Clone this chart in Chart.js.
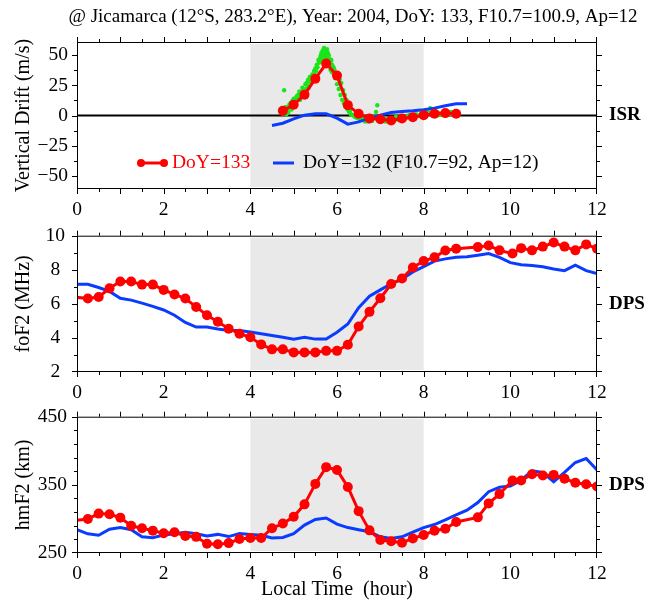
<!DOCTYPE html>
<html>
<head>
<meta charset="utf-8">
<script src="https://cdn.jsdelivr.net/npm/chart.js@4.4.0/dist/chart.umd.min.js"></script>
<style>
  html, body { margin: 0; padding: 0; background: #fff; }
  #wrap { position: relative; width: 647px; height: 600px; }
  #wrap canvas { position: absolute; left: 0; }
</style>
</head>
<body>
<div id="wrap">
  <canvas id="driftChart" style="top:0px"></canvas>
  <canvas id="foF2Chart" style="top:212px"></canvas>
  <canvas id="hmF2Chart" style="top:395px"></canvas>
</div>
<script>
// ISR vertical drift (m/s), DoY 133 fitted curve
const isrHours133 = [4.75, 5, 5.25, 5.5, 5.75, 6, 6.25, 6.5, 6.75, 7, 7.25, 7.5, 7.75, 8, 8.25, 8.5, 8.75];
const isrDrift133 = [3.9, 8.9, 17.3, 30.6, 43.1, 33.1, 8.6, 1.4, -2.5, -3.1, -4.2, -2.5, -1.4, 0.3, 1.4, 2.0, 1.4];

// ISR raw samples, DoY 133
const isrRawHours = [4.75, 4.78, 4.8, 4.83, 4.86, 4.88, 4.92, 4.95, 4.98, 5.02, 5.05, 5.08, 5.12, 5.15, 5.18, 5.22,
  5.25, 5.28, 5.32, 5.35, 5.38, 5.42, 5.45, 5.48, 5.52, 5.55, 5.58, 5.6, 5.63, 5.66, 5.68, 5.71, 5.73, 5.76, 5.78,
  5.8, 5.82, 5.85, 5.88, 5.9, 5.93, 5.96, 6.0, 6.04, 6.08, 6.12, 6.16, 6.2, 6.24, 6.28, 6.32, 6.38, 6.44, 6.5, 6.56,
  6.62, 6.68, 6.72, 6.78, 6.84, 6.93, 6.9, 6.95, 7.0, 7.06, 7.12, 7.18, 7.25, 7.32, 7.4, 7.48, 7.55, 7.62, 7.7, 7.78,
  7.85, 7.92, 8.0, 8.08, 8.15, 8.2, 8.28, 8.35, 8.42, 8.5, 8.58, 8.65, 8.72,
  4.77, 4.82, 4.85, 4.9, 4.93, 4.97, 5.0, 5.03, 5.07, 5.1, 5.13, 5.17, 5.2, 5.23, 5.27, 5.3, 5.33, 5.37, 5.4, 5.43,
  5.47, 5.5, 5.53, 5.57, 5.59, 5.62, 5.64, 5.65, 5.67, 5.69, 5.7, 5.72, 5.74, 5.75, 5.77, 5.79, 5.81, 5.83, 5.86,
  5.87, 5.89, 5.92, 5.94, 5.98, 6.02, 6.06, 6.1, 6.14, 6.18, 6.22, 6.26, 6.3, 6.35, 6.41, 6.47, 6.53, 6.59, 6.65,
  6.75, 6.81, 6.87, 6.98, 7.03, 7.09, 7.15, 7.22, 7.29, 7.36, 7.44, 7.52, 7.59, 7.67, 7.75, 7.82, 7.89, 7.96, 8.04,
  8.11, 8.24, 8.32, 8.39, 8.46, 8.54, 8.62, 8.69];
const isrRawDrift = [1.5, 21, 4.5, 1, 6, 3, 8, 5, 10, 12, 9, 14, 16, 13, 18, 20,
  17, 22, 25, 23, 28, 31, 29, 34, 37, 40, 44, 47, 50, 46, 52, 49, 54, 51, 47,
  44, 41, 38, 36, 39, 34, 31, 26, 22, 17, 13, 10, 7, 5, 3, 1, 0, -1.5, -2.5, -3,
  -4, -3.5, -5, -4, -2, 8.5, 3, -3, -4.5, -3.5, -5, -4, -3, -2.5, -3.5, -2, -1.5, -1, -0.5, 0,
  0.5, 0, 1, 1.5, 6, 2, 1, 2, 1.5, 2.5, 1, 1.5, 2,
  5, 7, 3, 9, 10.5, 12, 14, 11, 16, 17, 20, 19, 23, 21, 26, 27, 29.5, 32, 30, 34,
  37, 39, 42, 46, 44, 49, 52, 47, 54, 51, 56, 53, 50, 48, 55, 52, 50, 47, 45,
  46, 42, 40, 38, 34, 34, 30, 27, 21, 17, 13, 8, 4, 0.5, -1, -2, -3.5, -2, -5,
  -2.5, -4.5, -1, -2, -5, -2.5, -3, -4.5, -2, -1, -2.5, -0.5, -2, 0.5, -1, 1, -0.5, 1.5, 0,
  2.5, 0.5, 2.5, 0.5, 3, 1.5, 3, 0.5];

// ISR vertical drift, DoY 132
const isrHours132 = [4.5, 4.75, 5, 5.25, 5.5, 5.75, 6, 6.25, 6.5, 6.75, 7, 7.25, 7.5, 7.75, 8, 8.25, 8.5, 8.75, 9];
const isrDrift132 = [-8.3, -6.4, -2.8, 0.3, 1.4, 1.4, -2.2, -7.2, -5.3, -2.2, 0.3, 2.5, 3.3, 3.9, 4.7, 6.1, 8.1, 9.7, 9.7];

// DPS digisonde, DoY 133 (first sample belongs to the previous evening)
const dpsHours133 = [-0.25, 0.25, 0.5, 0.75, 1, 1.25, 1.5, 1.75, 2, 2.25, 2.5, 2.75, 3, 3.25, 3.5, 3.75, 4,
  4.25, 4.5, 4.75, 5, 5.25, 5.5, 5.75, 6, 6.25, 6.5, 6.75, 7, 7.25, 7.5, 7.75, 8, 8.25, 8.5, 8.75,
  9.25, 9.5, 9.75, 10.05, 10.25, 10.5, 10.75, 11, 11.25, 11.5, 11.75, 12];
const foF2Day133 = [6.45, 6.31, 6.40, 6.91, 7.31, 7.31, 7.13, 7.13, 6.82, 6.55, 6.31, 5.82, 5.33, 4.95, 4.54, 4.25, 4.04,
  3.62, 3.33, 3.33, 3.15, 3.15, 3.15, 3.24, 3.24, 3.60, 4.67, 5.53, 6.33, 7.16, 7.49, 8.13, 8.51, 8.73, 9.13, 9.24,
  9.33, 9.42, 9.14, 8.95, 9.27, 9.14, 9.36, 9.60, 9.36, 9.14, 9.49, 9.24];
const hmF2Day133 = [296, 300.0, 307.8, 306.8, 301.9, 290.0, 286.4, 282.8, 279.1, 280.5, 275.0, 273.7, 263.7, 262.8, 264.5, 270.5, 271.9,
  271.9, 286.4, 293.2, 303.2, 321.4, 351.4, 376.0, 371.9, 346.9, 311.4, 283.2, 269.1, 267.3, 265.0, 271.4, 276.4, 282.8, 285.5, 295.5,
  302.3, 322.8, 336.4, 356.4, 356.4, 365.5, 363.7, 364.6, 359.1, 353.2, 351.0, 347.7];

// DPS digisonde, DoY 132
const dpsHours132 = [0, 0.25, 0.5, 0.75, 1, 1.25, 1.5, 1.75, 2, 2.25, 2.5, 2.75, 3, 3.25, 3.5, 3.75, 4,
  4.25, 4.5, 4.75, 5, 5.25, 5.5, 5.75, 6, 6.25, 6.5, 6.75, 7, 7.25, 7.5, 7.75, 8,
  8.25, 8.5, 8.75, 9, 9.25, 9.5, 9.75, 10, 10.25, 10.5, 10.75, 11, 11.25, 11.5, 11.75, 12];
const foF2Day132 = [7.15, 7.15, 6.96, 6.73, 6.33, 6.22, 6.04, 5.85, 5.64, 5.33, 4.91, 4.64, 4.64, 4.53, 4.44, 4.44, 4.35,
  4.25, 4.14, 4.04, 3.93, 4.04, 3.93, 3.93, 4.33, 4.82, 5.78, 6.45, 6.82, 7.18, 7.45, 7.87, 8.18,
  8.51, 8.64, 8.73, 8.76, 8.85, 8.95, 8.73, 8.42, 8.29, 8.25, 8.18, 8.05, 7.95, 8.27, 7.95, 7.78];
const hmF2Day132 = [284.1, 278.2, 276.0, 285.0, 287.3, 284.1, 273.7, 272.3, 276.4, 278.2, 280.5, 278.2, 275.0, 277.3, 274.1, 278.7, 277.3,
  276.0, 271.9, 272.7, 278.2, 291.0, 299.2, 301.4, 292.3, 287.3, 284.1, 281.1, 273.7, 271.4, 273.7, 280.5, 287.3,
  291.8, 298.6, 306.0, 312.8, 324.1, 340.0, 346.4, 348.2, 356.9, 370.5, 368.2, 354.6, 368.2, 382.8, 388.6, 371.9];

// axes
const hourLabels = [0, 2, 4, 6, 8, 10, 12];
const hourTicks = [0, 1, 2, 3, 4, 5, 6, 7, 8, 9, 10, 11, 12];
const halfHourTicks = [0.5, 1.5, 2.5, 3.5, 4.5, 5.5, 6.5, 7.5, 8.5, 9.5, 10.5, 11.5];
const nightBand = [4, 8];
const driftTicks = [-50, -25, 0, 25, 50];
const driftMinor = [-37.5, -12.5, 12.5, 37.5];
const foF2Ticks = [2, 4, 6, 8, 10];
const foF2Minor = [3, 5, 7, 9];
const hmF2Ticks = [250, 350, 450];
const hmF2Minor = [270, 290, 310, 330, 370, 390, 410, 430];

const SERIF = "'Liberation Serif', 'Times New Roman', serif";
const RED = '#ff0000';
const BLUE = '#0a3cff';

const pts = (xs, ys) => xs.map((x, i) => ({ x, y: ys[i] }));
const minus = v => (v < 0 ? '\u2212' + Math.abs(v) : String(v));

// shaded night band, box frame with outward ticks, instrument tag on the right
const panelFrame = {
  id: 'panelFrame',
  beforeDatasetsDraw(chart, args, opts) {
    const { ctx, chartArea: a, scales: { x } } = chart;
    const x0 = x.getPixelForValue(opts.band[0]);
    const x1 = x.getPixelForValue(opts.band[1]);
    ctx.save();
    ctx.fillStyle = '#e9e9e9';
    ctx.fillRect(x0, a.top + 2, x1 - x0, a.bottom - a.top - 4);
    ctx.restore();
  },
  afterDraw(chart, args, opts) {
    const { ctx, chartArea: a, scales: { x, y } } = chart;
    ctx.save();
    ctx.strokeStyle = '#000';
    ctx.lineWidth = 1;
    ctx.strokeRect(a.left + 0.5, a.top + 0.5, a.right - a.left - 1, a.bottom - a.top - 1);

    const clampX = p => Math.min(Math.max(Math.round(p) + 0.5, a.left + 0.5), a.right - 0.5);
    const clampY = p => Math.min(Math.max(Math.round(p) + 0.5, a.top + 0.5), a.bottom - 0.5);
    ctx.beginPath();
    const xTick = (v, len) => {
      const p = clampX(x.getPixelForValue(v));
      ctx.moveTo(p, a.top); ctx.lineTo(p, a.top - len);
      ctx.moveTo(p, a.bottom); ctx.lineTo(p, a.bottom + len);
    };
    const yTick = (v, len) => {
      const p = clampY(y.getPixelForValue(v));
      ctx.moveTo(a.left, p); ctx.lineTo(a.left - len, p);
      ctx.moveTo(a.right, p); ctx.lineTo(a.right + len, p);
    };
    hourTicks.forEach(v => xTick(v, 5));
    halfHourTicks.forEach(v => xTick(v, 3));
    opts.yMajor.forEach(v => yTick(v, 5));
    opts.yMinor.forEach(v => yTick(v, 3));
    ctx.stroke();

    ctx.fillStyle = '#000';
    ctx.font = 'bold 19px ' + SERIF;
    ctx.textBaseline = 'middle';
    ctx.textAlign = 'left';
    ctx.fillText(opts.tag, a.right + 12, (a.top + a.bottom) / 2);
    ctx.restore();
  }
};

// figure title and series key, drawn on the top panel only
const driftHeader = {
  id: 'driftHeader',
  afterDraw(chart) {
    const { ctx } = chart;
    ctx.save();
    ctx.fillStyle = '#000';
    ctx.font = '19px ' + SERIF;
    ctx.textAlign = 'center';
    ctx.textBaseline = 'middle';
    ctx.fillText('@ Jicamarca (12\u00B0S, 283.2\u00B0E), Year: 2004, DoY: 133, F10.7=100.9, Ap=12', 353, 17);

    const ky = 163;
    ctx.lineWidth = 3;
    ctx.strokeStyle = RED;
    ctx.beginPath(); ctx.moveTo(141, ky); ctx.lineTo(164, ky); ctx.stroke();
    ctx.fillStyle = RED;
    [141, 164].forEach(cx => { ctx.beginPath(); ctx.arc(cx, ky, 4, 0, Math.PI * 2); ctx.fill(); });
    ctx.font = '19.5px ' + SERIF;
    ctx.textAlign = 'left';
    ctx.fillText('DoY=133', 172, ky);

    ctx.strokeStyle = BLUE;
    ctx.beginPath(); ctx.moveTo(273, ky); ctx.lineTo(294, ky); ctx.stroke();
    ctx.fillStyle = '#000';
    ctx.fillText('DoY=132 (F10.7=92, Ap=12)', 303, ky);
    ctx.restore();
  }
};

function makePanel(id, cfg) {
  const canvas = document.getElementById(id);
  canvas.width = 647;
  canvas.height = cfg.height;
  canvas.style.width = '647px';
  canvas.style.height = cfg.height + 'px';

  return new Chart(canvas, {
    type: 'line',
    data: { datasets: cfg.datasets },
    plugins: [panelFrame].concat(cfg.extraPlugins || []),
    options: {
      responsive: false,
      animation: false,
      events: [],
      layout: { padding: { top: cfg.top, right: 50, left: 0, bottom: 0 } },
      plugins: {
        legend: { display: false },
        tooltip: { enabled: false },
        panelFrame: { band: nightBand, yMajor: cfg.yTicks, yMinor: cfg.yMinor, tag: cfg.tag }
      },
      scales: {
        x: {
          type: 'linear',
          min: 0,
          max: 12,
          afterBuildTicks: s => { s.ticks = hourLabels.map(v => ({ value: v })); },
          afterFit: s => { s.height = cfg.xHeight; },
          grid: { display: false, drawTicks: false },
          border: { display: false },
          ticks: { color: '#000', font: { family: SERIF, size: 19.5 }, padding: 9, maxRotation: 0 },
          title: {
            display: !!cfg.xTitle,
            text: cfg.xTitle || '',
            color: '#000',
            font: { family: SERIF, size: 20, lineHeight: 1 },
            padding: { top: 0, bottom: 0 }
          }
        },
        y: {
          type: 'linear',
          min: cfg.yMin,
          max: cfg.yMax,
          afterBuildTicks: s => { s.ticks = cfg.yTicks.map(v => ({ value: v })); },
          afterFit: s => { s.width = 77; },
          grid: { display: false, drawTicks: false },
          border: { display: false },
          ticks: {
            color: '#000',
            font: { family: SERIF, size: 19.5 },
            padding: cfg.yPad,
            crossAlign: cfg.yAlign,
            callback: minus
          },
          title: {
            display: true,
            text: cfg.yTitle,
            color: '#000',
            font: { family: SERIF, size: 20 },
            padding: { top: 12, bottom: 0 }
          }
        }
      }
    }
  });
}

const redLine = data => ({
  data, order: 0, borderColor: RED, borderWidth: 3, tension: 0,
  pointRadius: 5, pointBackgroundColor: RED, pointBorderWidth: 0
});
const blueLine = data => ({
  data, order: 1, borderColor: BLUE, borderWidth: 3, tension: 0, pointRadius: 0
});

makePanel('driftChart', {
  height: 220, top: 42, xHeight: 31,
  yMin: -61, yMax: 61, yTicks: driftTicks, yMinor: driftMinor,
  yPad: 9, yAlign: 'near', yTitle: 'Vertical Drift (m/s)', tag: 'ISR',
  extraPlugins: [driftHeader],
  datasets: [
    redLine(pts(isrHours133, isrDrift133)),
    blueLine(pts(isrHours132, isrDrift132)),
    {
      data: pts(isrRawHours, isrRawDrift), order: 2, showLine: false,
      pointRadius: 2.2, pointBackgroundColor: '#19e619', pointBorderWidth: 0
    },
    {
      data: pts([0, 12], [0, 0]), order: 3, borderColor: '#000', borderWidth: 2, pointRadius: 0
    }
  ]
});

makePanel('foF2Chart', {
  height: 188, top: 13, xHeight: 28,
  yMin: 2, yMax: 10, yTicks: foF2Ticks, yMinor: foF2Minor,
  yPad: 12, yAlign: 'center', yTitle: 'foF2 (MHz)', tag: 'DPS',
  datasets: [
    redLine(pts(dpsHours133, foF2Day133)),
    blueLine(pts(dpsHours132, foF2Day132))
  ]
});

makePanel('hmF2Chart', {
  height: 205, top: 12, xHeight: 47,
  yMin: 250, yMax: 450, yTicks: hmF2Ticks, yMinor: hmF2Minor,
  yPad: 10, yAlign: 'near', yTitle: 'hmF2 (km)', tag: 'DPS',
  xTitle: 'Local Time  (hour)',
  datasets: [
    redLine(pts(dpsHours133, hmF2Day133)),
    blueLine(pts(dpsHours132, hmF2Day132))
  ]
});
</script>
</body>
</html>
